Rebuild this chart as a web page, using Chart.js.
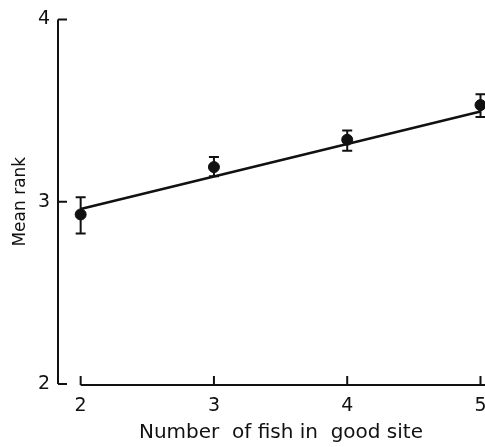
<!DOCTYPE html>
<html lang="en">

<head>
  <meta charset="UTF-8">
  <title>Mean rank</title>
  <script src="https://cdn.jsdelivr.net/npm/chart.js"></script>
  <style>
    html, body { margin: 0; padding: 0; background: #fff; overflow: hidden; }
    #wrap { width: 485px; height: 447px; }
  </style>
</head>

<body>
  <div id="wrap"><canvas id="rankChart"></canvas></div>
  <script>
    // number of fish in good site
    const fishCounts = [2, 3, 4, 5];
    const meanRank = [2.93, 3.19, 3.34, 3.53];
    const errUpper = [3.025, 3.245, 3.39, 3.59];
    const errLower = [2.825, 3.14, 3.28, 3.465];
    // fitted regression line end points
    const fitX = [2, 5];
    const fitY = [2.96, 3.495];
    const yTicks = [2, 3, 4];
    const xTicks = [2, 3, 4, 5];

    const ink = '#111';
    const font = 'DejaVu Sans';

    // axis lines, inward ticks and error bars
    const frame = {
      id: 'frame',
      afterDatasetsDraw(chart) {
        const { ctx, scales: { x, y } } = chart;
        ctx.save();
        ctx.strokeStyle = ink;
        ctx.lineWidth = 2;
        // y axis with ticks pointing right
        const ax = x.left;
        ctx.beginPath();
        ctx.moveTo(ax, y.getPixelForValue(4));
        ctx.lineTo(ax, y.getPixelForValue(2));
        yTicks.forEach(v => {
          const py = y.getPixelForValue(v);
          ctx.moveTo(ax, py);
          ctx.lineTo(ax + 9, py);
        });
        ctx.stroke();
        // x axis starts at 2, ticks pointing up, runs off the right edge
        const ay = y.getPixelForValue(2) + 1;
        ctx.beginPath();
        ctx.moveTo(x.getPixelForValue(2), ay);
        ctx.lineTo(chart.width, ay);
        xTicks.forEach(v => {
          const px = x.getPixelForValue(v);
          ctx.moveTo(px, ay);
          ctx.lineTo(px, ay - 9);
        });
        ctx.stroke();
        // error bars
        fishCounts.forEach((v, i) => {
          const px = x.getPixelForValue(v);
          const top = y.getPixelForValue(errUpper[i]);
          const bot = y.getPixelForValue(errLower[i]);
          ctx.beginPath();
          ctx.moveTo(px, top);
          ctx.lineTo(px, bot);
          ctx.moveTo(px - 5, top);
          ctx.lineTo(px + 5, top);
          ctx.moveTo(px - 5, bot);
          ctx.lineTo(px + 5, bot);
          ctx.stroke();
        });
        ctx.restore();
      }
    };

    new Chart(document.getElementById('rankChart'), {
      type: 'scatter',
      data: {
        datasets: [
          {
            label: 'mean',
            data: fishCounts.map((v, i) => ({ x: v, y: meanRank[i] })),
            backgroundColor: ink,
            borderColor: ink,
            pointRadius: 5.5,
            pointHoverRadius: 5.5,
            clip: false
          },
          {
            label: 'fit',
            type: 'line',
            data: fitX.map((v, i) => ({ x: v, y: fitY[i] })),
            borderColor: ink,
            borderWidth: 2.5,
            pointRadius: 0,
            fill: false,
            clip: false
          }
        ]
      },
      options: {
        responsive: true,
        maintainAspectRatio: false,
        animation: false,
        events: [],
        layout: { padding: { top: 19, right: 0, left: 0, bottom: 0 } },
        plugins: {
          legend: { display: false },
          tooltip: { enabled: false }
        },
        scales: {
          x: {
            type: 'linear',
            min: 1.83,
            max: 4.985,
            grid: { display: false, drawTicks: false },
            border: { display: false },
            afterBuildTicks: s => { s.ticks = xTicks.map(v => ({ value: v })); },
            afterFit: s => { s.height = 63; s.paddingLeft = 0; s.paddingRight = 0; },
            ticks: { color: ink, padding: 11, font: { family: font, size: 19 } },
            title: {
              display: true,
              text: '    Number  of fish in  good site',
              color: ink,
              padding: { top: 0, bottom: 2 },
              font: { family: font, size: 20 }
            }
          },
          y: {
            min: 2,
            max: 4,
            grid: { display: false, drawTicks: false },
            border: { display: false },
            afterBuildTicks: s => { s.ticks = yTicks.map(v => ({ value: v })); },
            afterFit: s => { s.width = 58; },
            ticks: { color: ink, padding: 8, font: { family: font, size: 19 } },
            title: {
              display: true,
              text: 'Mean rank',
              color: ink,
              padding: { top: 10, bottom: 0 },
              font: { family: font, size: 17 }
            }
          }
        }
      },
      plugins: [frame]
    });
  </script>
</body>

</html>
